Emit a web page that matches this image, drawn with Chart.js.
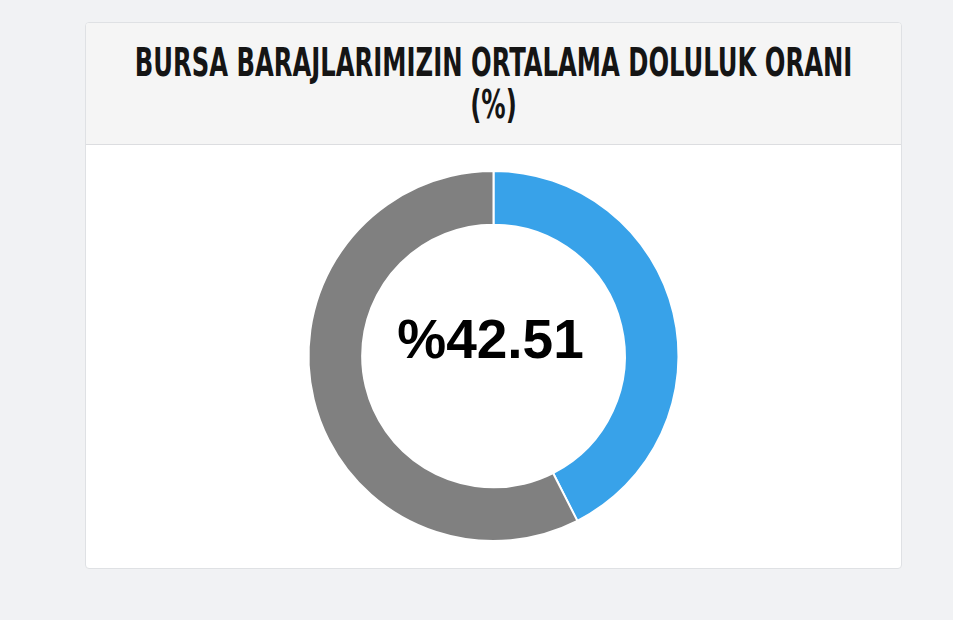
<!DOCTYPE html>
<html lang="tr">
<head>
<meta charset="utf-8">
<title>Bursa Barajları Doluluk</title>
<script src="https://cdn.jsdelivr.net/npm/chart.js@4.4.0/dist/chart.umd.min.js"></script>
<style>
  html, body { margin: 0; padding: 0; }
  body { background: #f1f2f4; width: 953px; height: 620px; overflow: hidden; }
  .kart {
    position: absolute; left: 85px; top: 22px; width: 815px; height: 545px;
    background: #fff; border: 1px solid #dfe1e4; border-radius: 4px; overflow: hidden;
  }
  .kart-baslik {
    height: 121px; background: #f5f5f5; border-bottom: 1px solid #dcdde0;
    display: flex; align-items: center; justify-content: center; text-align: center;
  }
  .kart-baslik h2 {
    margin: 0; font-family: "DejaVu Sans Condensed", "Liberation Sans Narrow", sans-serif;
    font-weight: bold; font-size: 37px; line-height: 40px; color: #151515;
    transform: scale(0.73, 1.05); white-space: nowrap; padding-top: 0;
  }
  .grafik { position: relative; width: 815px; height: 423px; }
</style>
</head>
<body>
<div class="kart">
  <div class="kart-baslik">
    <h2>BURSA BARAJLARIMIZIN ORTALAMA DOLULUK ORANI<br>(%)</h2>
  </div>
  <div class="grafik">
    <canvas id="dolulukGrafik"></canvas>
  </div>
</div>

<script>
let etiketler = ["Doluluk", "Boş"];
let degerler = [42.51, 57.49];
let renkler = ["#38a2e9", "#808080"];
let merkezYazi = "%" + degerler[0].toFixed(2);

// ortadaki yüzde yazısı
const merkezYaziEklentisi = {
    id: "merkezYazi",
    afterDraw(chart) {
        const meta = chart.getDatasetMeta(0);
        if (!meta.data.length) return;
        const x = meta.data[0].x;
        const y = meta.data[0].y;
        const ctx = chart.ctx;
        ctx.save();
        ctx.font = "bold 55px 'Liberation Sans', Arial, sans-serif";
        ctx.fillStyle = "#000";
        ctx.textAlign = "center";
        ctx.textBaseline = "alphabetic";
        ctx.fillText(merkezYazi, x - 3, y + 2);
        ctx.restore();
    }
};

const ctx = document.getElementById("dolulukGrafik").getContext("2d");
new Chart(ctx, {
    type: "doughnut",
    data: {
        labels: etiketler,
        datasets: [{
            data: degerler,
            backgroundColor: renkler,
            borderColor: "#ffffff",
            borderWidth: 2
        }]
    },
    options: {
        responsive: true,
        maintainAspectRatio: false,
        animation: false,
        cutout: "71%",
        layout: { padding: { top: 25, bottom: 26 } },
        plugins: {
            legend: { display: false },
            tooltip: { enabled: false }
        }
    },
    plugins: [merkezYaziEklentisi]
});
</script>
</body>
</html>
